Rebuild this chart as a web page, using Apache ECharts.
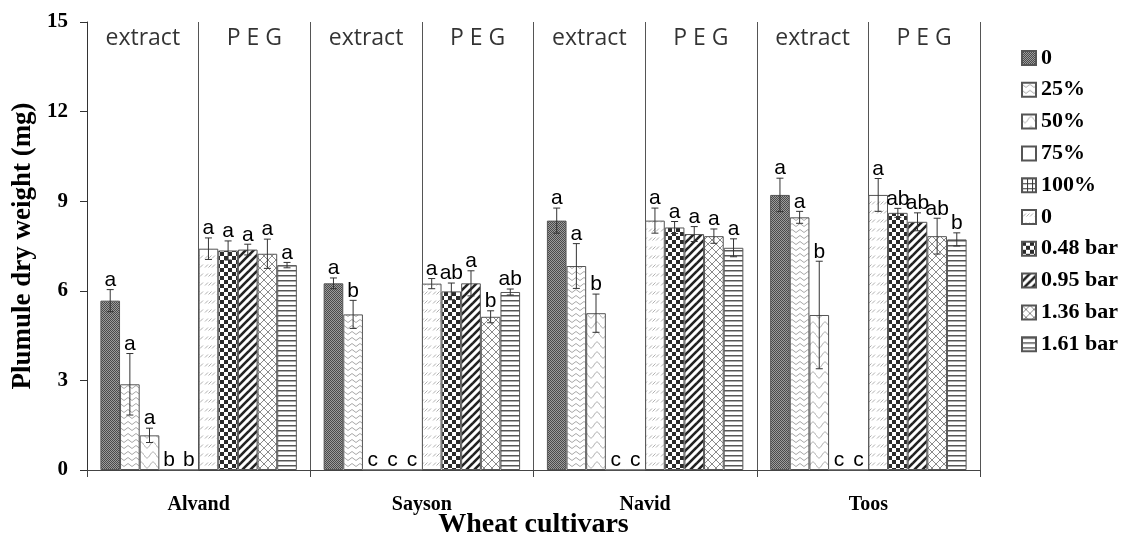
<!DOCTYPE html>
<html><head><meta charset="utf-8">
<script src="https://cdn.jsdelivr.net/npm/echarts@6/dist/echarts.min.js"></script>
<style>html,body{margin:0;padding:0;background:#fff}#c{width:1123px;height:533px}</style>
</head><body><div id="c"></div>
<script>
// ---- data ----
const categories = ['Alvand', 'Sayson', 'Navid', 'Toos'];
const seriesNames = ['0', '25%', '50%', '75%', '100%', '0 ', '0.48 bar', '0.95 bar', '1.36 bar', '1.61 bar'];
const panelLabels = ['extract', 'P E G'];
const yTicks = [0, 3, 6, 9, 12, 15];

const ext0   = [5.67, 6.25, 8.35, 9.21];
const ext25  = [2.87, 5.21, 6.83, 8.46];
const ext50  = [1.16, 0, 5.25, 5.19];
const ext75  = [0, 0, 0, 0];
const ext100 = [0, 0, 0, 0];
const peg0   = [7.41, 6.24, 8.35, 9.21];
const peg048 = [7.35, 5.98, 8.12, 8.61];
const peg095 = [7.38, 6.25, 7.90, 8.31];
const peg136 = [7.24, 5.13, 7.83, 7.83];
const peg161 = [6.86, 5.96, 7.44, 7.72];

const ext0Err   = [0.37, 0.18, 0.42, 0.56];
const ext25Err  = [1.03, 0.47, 0.75, 0.20];
const ext50Err  = [0.24, 0, 0.64, 1.80];
const ext75Err  = [0, 0, 0, 0];
const ext100Err = [0, 0, 0, 0];
const peg0Err   = [0.36, 0.17, 0.42, 0.55];
const peg048Err = [0.32, 0.28, 0.20, 0.15];
const peg095Err = [0.18, 0.42, 0.25, 0.30];
const peg136Err = [0.49, 0.20, 0.24, 0.60];
const peg161Err = [0.09, 0.10, 0.30, 0.22];

const ext0Sig   = ['a', 'a', 'a', 'a'];
const ext25Sig  = ['a', 'b', 'a', 'a'];
const ext50Sig  = ['a', 'c', 'b', 'b'];
const ext75Sig  = ['b', 'c', 'c', 'c'];
const ext100Sig = ['b', 'c', 'c', 'c'];
const peg0Sig   = ['a', 'a', 'a', 'a'];
const peg048Sig = ['a', 'ab', 'a', 'ab'];
const peg095Sig = ['a', 'a', 'a', 'ab'];
const peg136Sig = ['a', 'b', 'a', 'ab'];
const peg161Sig = ['a', 'ab', 'a', 'b'];

const values = [ext0, ext25, ext50, ext75, ext100, peg0, peg048, peg095, peg136, peg161];
const errors = [ext0Err, ext25Err, ext50Err, ext75Err, ext100Err, peg0Err, peg048Err, peg095Err, peg136Err, peg161Err];
const sigs = [ext0Sig, ext25Sig, ext50Sig, ext75Sig, ext100Sig, peg0Sig, peg048Sig, peg095Sig, peg136Sig, peg161Sig];

// ---- patterns ----
function tile(w, h, draw) {
  const c = document.createElement('canvas');
  c.width = w; c.height = h;
  const g = c.getContext('2d');
  g.fillStyle = '#fff'; g.fillRect(0, 0, w, h);
  draw(g);
  return { image: c, repeat: 'repeat' };
}
function line(g, pts) { g.beginPath(); g.moveTo(pts[0], pts[1]); for (let i = 2; i < pts.length; i += 2) g.lineTo(pts[i], pts[i + 1]); g.stroke(); }

const patterns = [
  tile(2, 2, g => { g.fillStyle = '#9c9c9c'; g.fillRect(0, 0, 2, 2); g.fillStyle = '#4a4a4a'; g.fillRect(0, 0, 1, 1); g.fillRect(1, 1, 1, 1); }),
  tile(8, 6, g => { g.strokeStyle = '#a8a8a8'; g.lineWidth = 1; line(g, [0, 1.5, 4, 4.5, 8, 1.5]); }),
  tile(12, 10, g => { g.strokeStyle = '#a8a8a8'; g.lineWidth = 1; g.beginPath(); for (let x = 0; x <= 12; x += 0.5) { const y = 5 + 3 * Math.sin(x / 12 * 2 * Math.PI); x === 0 ? g.moveTo(x, y) : g.lineTo(x, y); } g.stroke(); }),
  '#ffffff',
  tile(5, 5, g => { g.fillStyle = '#333'; g.fillRect(0, 0, 5, 1); g.fillRect(0, 0, 1, 5); }),
  tile(12, 9, g => { g.strokeStyle = '#b0b0b0'; g.lineWidth = 1; [1, 4.5, 8].forEach(x => line(g, [x, 6.5, x + 3, 3.5])); }),
  tile(8, 8, g => { g.fillStyle = '#2b2b2b'; g.fillRect(0, 0, 4, 4); g.fillRect(4, 4, 4, 4); }),
  tile(8, 8, g => { g.strokeStyle = '#222'; g.lineWidth = 2.6; line(g, [-1, 9, 9, -1]); line(g, [-1, 1, 1, -1]); line(g, [7, 9, 9, 7]); }),
  tile(8, 8, g => { g.strokeStyle = '#8a8a8a'; g.lineWidth = 1; line(g, [0, 0, 8, 8]); line(g, [0, 8, 8, 0]); }),
  tile(4, 5, g => { g.fillStyle = '#555'; g.fillRect(0, 0, 4, 1); g.fillStyle = '#aaa'; g.fillRect(0, 1, 4, 1); })
];

const nBars = seriesNames.length;
const catGap = 0.12;

const barSeries = seriesNames.map((name, i) => ({
  name: name,
  type: 'bar',
  xAxisIndex: 0, yAxisIndex: 0,
  barGap: '0%',
  barCategoryGap: (catGap * 100) + '%',
  data: values[i],
  itemStyle: { color: patterns[i], borderColor: '#555', borderWidth: 1 },
  emphasis: { disabled: true },
  z: 2
}));

const errData = [];
values.forEach((arr, si) => arr.forEach((v, ci) => errData.push([ci, v, errors[si][ci], si, sigs[si][ci]])));

const errSeries = {
  type: 'custom',
  xAxisIndex: 0, yAxisIndex: 0,
  data: errData,
  encode: { x: 0, y: 1 },
  z: 5,
  silent: true,
  renderItem: function (params, api) {
    const ci = api.value(0), v = api.value(1), e = api.value(2), si = api.value(3);
    const letter = errData[params.dataIndex][4];
    const band = api.size([1, 0])[0];
    const bw = band * (1 - catGap) / nBars;
    const cx = api.coord([ci, v])[0] + (si - (nBars - 1) / 2) * bw;
    const top = api.coord([ci, v + e])[1];
    const bot = api.coord([ci, Math.max(0, v - e)])[1];
    const children = [];
    const st = { stroke: '#333', lineWidth: 1 };
    if (e > 0) {
      children.push({ type: 'line', shape: { x1: cx, y1: top, x2: cx, y2: bot }, style: st });
      children.push({ type: 'line', shape: { x1: cx - 3.5, y1: top, x2: cx + 3.5, y2: top }, style: st });
      children.push({ type: 'line', shape: { x1: cx - 3.5, y1: bot, x2: cx + 3.5, y2: bot }, style: st });
    }
    children.push({
      type: 'text',
      x: cx, y: top + 1,
      style: { text: letter, fill: '#000', font: '21px "Liberation Sans", Arial, sans-serif', textAlign: 'center', textVerticalAlign: 'bottom' }
    });
    return { type: 'group', children: children };
  }
};

const panelData = [];
categories.forEach((c, ci) => panelLabels.forEach((t, pi) => panelData.push([ci * 2 + pi + 0.5, 14.45, t])));

const panelSeries = {
  type: 'scatter',
  xAxisIndex: 1, yAxisIndex: 0,
  data: panelData,
  symbolSize: 0,
  silent: true,
  label: {
    show: true, position: 'inside',
    formatter: p => p.value[2],
    fontFamily: '"Open Sans", sans-serif', fontSize: 23, color: '#000'
  }
};

const serif = '"Liberation Serif", "Times New Roman", serif';

const option = {
  animation: false,
  backgroundColor: '#fff',
  grid: { left: 87, right: 143, top: 22, bottom: 63, containLabel: false, outerBoundsMode: 'none' },
  legend: {
    orient: 'vertical',
    left: 1021, top: 47,
    padding: 0,
    icon: 'rect',
    itemWidth: 14, itemHeight: 14,
    itemGap: 9.8,
    itemTextGap: 8,
    data: seriesNames,
    selectedMode: false,
    textStyle: { fontFamily: serif, fontWeight: 'bold', fontSize: 22, color: '#000', lineHeight: 22 }
  },
  xAxis: [
    {
      type: 'category',
      data: categories,
      boundaryGap: true,
      name: 'Wheat cultivars',
      nameLocation: 'middle',
      nameGap: 41,
      nameMoveOverlap: false,
      nameTextStyle: { fontFamily: serif, fontWeight: 'bold', fontSize: 28, color: '#000' },
      axisLine: { lineStyle: { color: '#444', width: 1 } },
      axisTick: { show: true, length: 7, lineStyle: { color: '#444' } },
      axisLabel: { margin: 25, fontFamily: serif, fontWeight: 'bold', fontSize: 20, color: '#000' },
      splitLine: { show: false }
    },
    {
      type: 'value',
      min: 0, max: 8, interval: 1,
      position: 'bottom',
      axisLine: { show: false },
      axisTick: { show: false },
      axisLabel: { show: false },
      splitLine: { show: true, lineStyle: { color: '#555', width: 1 } }
    }
  ],
  yAxis: {
    type: 'value',
    min: yTicks[0], max: yTicks[yTicks.length - 1], interval: yTicks[1] - yTicks[0],
    name: 'Plumule dry weight (mg)',
    nameLocation: 'middle',
    nameGap: 50,
    nameMoveOverlap: false,
    nameTextStyle: { fontFamily: serif, fontWeight: 'bold', fontSize: 27, color: '#000' },
    axisLine: { show: true, lineStyle: { color: '#333', width: 1 } },
    axisTick: { show: true, length: 7, lineStyle: { color: '#333' } },
    axisLabel: { margin: 19, fontFamily: serif, fontWeight: 'bold', fontSize: 21, color: '#000' },
    splitLine: { show: false }
  },
  series: barSeries.concat([errSeries, panelSeries])
};

const chart = echarts.init(document.getElementById('c'), null, { renderer: 'canvas' });
chart.setOption(option);
</script>
</body></html>
